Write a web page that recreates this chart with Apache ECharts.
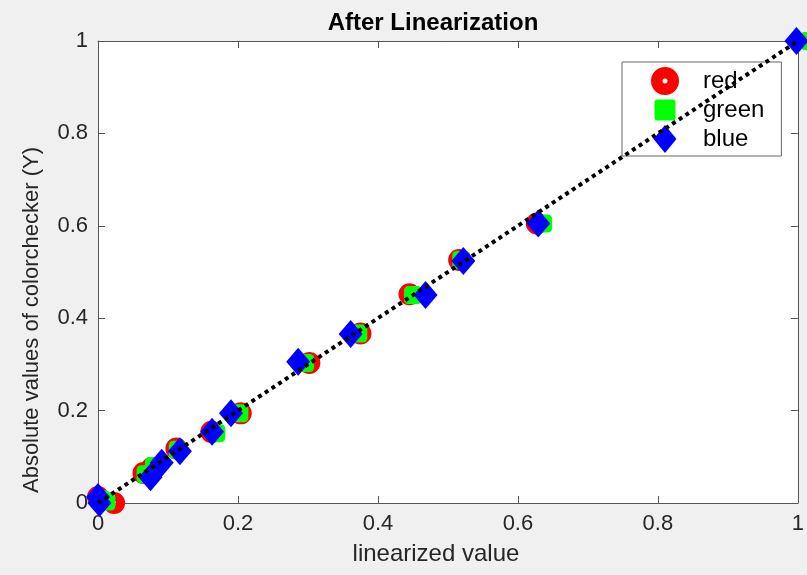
<!DOCTYPE html>
<html><head><meta charset="utf-8">
<script src="https://cdn.jsdelivr.net/npm/echarts@6/dist/echarts.min.js"></script>
<style>html,body{margin:0;padding:0;background:#f0f0f0}#c{width:807px;height:575px}</style>
</head><body><div id="c"></div>
<script>
// ---- data ----
const seriesNames = ['red', 'green', 'blue'];
const redX   = [0.000, 0.023, 0.065, 0.077, 0.112, 0.162, 0.204, 0.302, 0.375, 0.445, 0.516, 0.627, 1.025];
const redY   = [0.013, 0.000, 0.065, 0.076, 0.118, 0.154, 0.194, 0.303, 0.367, 0.452, 0.526, 0.605, 1.000];
const greenX = [0.004, 0.012, 0.068, 0.080, 0.114, 0.169, 0.202, 0.296, 0.372, 0.450, 0.519, 0.636, 1.016];
const greenY = [0.008, 0.003, 0.062, 0.080, 0.115, 0.151, 0.194, 0.303, 0.367, 0.450, 0.526, 0.605, 1.000];
const blueX  = [0.000, 0.002, 0.075, 0.091, 0.117, 0.163, 0.190, 0.286, 0.361, 0.468, 0.522, 0.629, 0.998];
const blueY  = [0.013, 0.000, 0.056, 0.087, 0.112, 0.154, 0.194, 0.306, 0.366, 0.450, 0.524, 0.605, 1.000];
const refLineX = [0, 1];
const refLineY = [0, 1];
const axisMin = 0, axisMax = 1, tickStep = 0.2;

function pts(xs, ys) { return xs.map((x, i) => [x, ys[i]]); }

const FONT = 'Liberation Sans';
const TXT = '#262626';
const ringPath = 'path://M0,14A14,14,0,1,1,28,14A14,14,0,1,1,0,14ZM11.5,14A2.5,2.5,0,1,0,16.5,14A2.5,2.5,0,1,0,11.5,14Z';
const legendSquare = 'path://M0,0L0.01,0ZM28,28L27.99,28ZM6.5,3.5H21.5A3,3,0,0,1,24.5,6.5V21.5A3,3,0,0,1,21.5,24.5H6.5A3,3,0,0,1,3.5,21.5V6.5A3,3,0,0,1,6.5,3.5Z';
const legendDiamond = 'path://M0,14L0.01,14ZM28,14L27.99,14ZM14,0L25.5,14L14,28L2.5,14Z';

const axisLineStyle = { color: '#555', width: 1 };
function mkAxis(pos, showLabel, extra) {
  return Object.assign({
    type: 'value', min: axisMin, max: axisMax, interval: tickStep, position: pos,
    axisLine: { show: true, onZero: false, lineStyle: axisLineStyle },
    axisTick: { show: true, inside: true, length: 7, lineStyle: axisLineStyle },
    splitLine: { show: false },
    axisLabel: { show: showLabel, fontFamily: FONT, fontSize: 22, color: TXT, margin: 10 }
  }, extra || {});
}

const chart = echarts.init(document.getElementById('c'));
chart.setOption({
  backgroundColor: '#f0f0f0',
  animation: false,
  title: {
    text: 'After Linearization', left: 428, top: 6, textAlign: 'center',
    textStyle: { fontFamily: FONT, fontSize: 24, fontWeight: 'bold', color: '#000' }
  },
  grid: { left: 98, right: 6, top: 41, bottom: 72, show: true, backgroundColor: '#fff', borderWidth: 0 },
  legend: {
    orient: 'vertical', left: 622, top: 62,
    padding: [5, 17, 3, 29], itemGap: 1, itemWidth: 28, itemHeight: 28, symbolKeepAspect: true,
    backgroundColor: '#fff', borderColor: '#666', borderWidth: 1, borderRadius: 0,
    textStyle: { fontFamily: FONT, fontSize: 24, color: '#000', lineHeight: 26, padding: [0, 0, 0, 19] },
    data: [
      { name: seriesNames[0], icon: ringPath },
      { name: seriesNames[1], icon: legendSquare },
      { name: seriesNames[2], icon: legendDiamond }
    ]
  },
  xAxis: [
    mkAxis('bottom', true, {
      name: 'linearized value', nameLocation: 'middle', nameGap: 39,
      nameTextStyle: { fontFamily: FONT, fontSize: 24, color: TXT, padding: [0, 24, 0, 0] }
    }),
    mkAxis('top', false)
  ],
  yAxis: [
    mkAxis('left', true, {
      name: 'Absolute values of colorchecker (Y)', nameLocation: 'middle', nameGap: 55,
      nameTextStyle: { fontFamily: FONT, fontSize: 22, color: TXT, padding: [0, 96, 0, 0] }
    }),
    mkAxis('right', false)
  ],
  series: [
    {
      name: seriesNames[0], type: 'scatter', data: pts(redX, redY), clip: false,
      symbol: ringPath, symbolSize: 22, itemStyle: { color: '#ff0000', opacity: 1 }
    },
    {
      name: seriesNames[1], type: 'scatter', data: pts(greenX, greenY), clip: false,
      symbol: 'roundRect', symbolSize: 18, itemStyle: { color: '#00ff00', opacity: 1 }
    },
    {
      name: seriesNames[2], type: 'scatter', data: pts(blueX, blueY), clip: false,
      symbol: 'diamond', symbolSize: [24, 28], itemStyle: { color: '#0000ff', opacity: 1 }
    },
    {
      name: 'fit', type: 'line', data: pts(refLineX, refLineY), showSymbol: false, symbol: 'none',
      lineStyle: { color: '#000', width: 4, type: [4, 4], cap: 'butt' }, silent: true, z: 5
    }
  ]
});
</script>
</body></html>
